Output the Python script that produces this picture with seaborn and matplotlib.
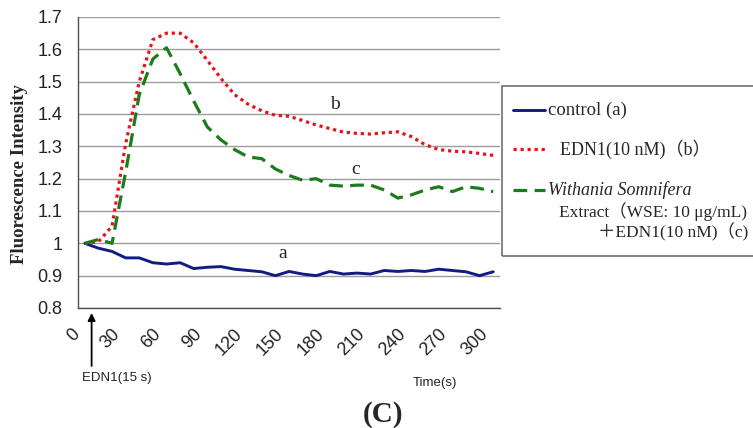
import numpy as np
import pandas as pd
import matplotlib
matplotlib.use("Agg")
import matplotlib.pyplot as plt
import matplotlib.ticker as mticker
import matplotlib.transforms as mtransforms
from matplotlib.lines import Line2D
from matplotlib.patches import Rectangle
import seaborn as sns

# Time points (s) and fluorescence readings
time_s = [0, 10, 20, 30, 40, 50, 60, 70, 80, 90, 100, 110, 120, 130, 140, 150,
          160, 170, 180, 190, 200, 210, 220, 230, 240, 250, 260, 270, 280, 290, 300]
control = [1.000, 0.985, 0.975, 0.955, 0.955, 0.940, 0.936, 0.940, 0.922, 0.926,
           0.928, 0.920, 0.916, 0.912, 0.900, 0.913, 0.905, 0.900, 0.913, 0.905,
           0.908, 0.905, 0.916, 0.913, 0.916, 0.913, 0.920, 0.916, 0.912, 0.900, 0.912]
edn1 = [1.000, 1.005, 1.053, 1.308, 1.500, 1.630, 1.650, 1.650, 1.620, 1.566,
        1.510, 1.460, 1.430, 1.410, 1.396, 1.393, 1.380, 1.366, 1.355, 1.344,
        1.340, 1.338, 1.342, 1.345, 1.330, 1.305, 1.290, 1.285, 1.283, 1.278, 1.272]
wse_edn1 = [1.000, 1.012, 1.000, 1.220, 1.460, 1.570, 1.605, 1.525, 1.440, 1.360,
            1.320, 1.290, 1.267, 1.262, 1.230, 1.210, 1.195, 1.200, 1.180, 1.177,
            1.180, 1.180, 1.165, 1.140, 1.150, 1.165, 1.175, 1.160, 1.175, 1.170, 1.160]

x_tick_values = [0, 30, 60, 90, 120, 150, 180, 210, 240, 270, 300]
y_tick_values = [0.8, 0.9, 1.0, 1.1, 1.2, 1.3, 1.4, 1.5, 1.6, 1.7]

df = pd.DataFrame({"time": time_s, "control": control, "edn1": edn1, "wse": wse_edn1})

sns.set_style("whitegrid")
plt.rcParams["font.family"] = ["Liberation Sans Narrow", "Liberation Sans", "DejaVu Sans"]

W, H = 753, 428
fig = plt.figure(figsize=(W / 100, H / 100), dpi=100)
ax = fig.add_axes([78 / W, 1 - 308 / H, 422 / W, 291 / H])

BLUE = "#101c82"
RED = "#e8121c"
GREEN = "#1c7c1c"

sns.lineplot(data=df, x="time", y="control", ax=ax, color=BLUE, lw=2.1)
sns.lineplot(data=df, x="time", y="edn1", ax=ax, color=RED, lw=2.3,
             linestyle=(0, (1, 1.2)))
sns.lineplot(data=df, x="time", y="wse", ax=ax, color=GREEN, lw=2.3,
             linestyle=(0, (4.3, 2.3)))

ax.set_xlim(-5, 305)
ax.set_ylim(0.8, 1.7)
ax.set_yticks(y_tick_values)
ax.yaxis.set_major_formatter(mticker.FuncFormatter(lambda v, p: f"{round(v, 1):g}"))
ax.set_xticks(x_tick_values)
ax.xaxis.set_minor_locator(mticker.FixedLocator(np.arange(5, 306, 10)))

ax.grid(axis="y", color="#9c9c9c", lw=1.0)
ax.grid(axis="x", visible=False)
for side in ["top", "right"]:
    ax.spines[side].set_visible(False)
for side in ["left", "bottom"]:
    ax.spines[side].set_color("#505050")
    ax.spines[side].set_linewidth(1.0)

ax.tick_params(axis="y", length=0, pad=11, labelsize=13, labelcolor="#222222")
ax.tick_params(axis="x", which="major", length=0, pad=17, labelsize=13, labelcolor="#222222")
ax.tick_params(axis="x", which="minor", direction="in", length=4, width=1, color="#505050")

shift = mtransforms.ScaledTranslation(-0.08, 0, fig.dpi_scale_trans)
for lab in ax.get_xticklabels():
    lab.set_rotation(45)
    lab.set_ha("right")
    lab.set_va("center")
    lab.set_rotation_mode("anchor")
    lab.set_transform(lab.get_transform() + shift)

ax.set_xlabel("")
ax.set_ylabel("Fluorescence Intensity", family="Liberation Serif", weight="bold", fontsize=13.5)
ax.yaxis.set_label_coords(-0.118, 0.46)

# curve letters
serif = ["Liberation Serif", "Noto Sans CJK JP"]
ax.text(145, 0.969, "a", family=serif, fontsize=14, ha="center", va="center")
ax.text(184, 1.428, "b", family=serif, fontsize=14, ha="center", va="center")
ax.text(199, 1.228, "c", family=serif, fontsize=14, ha="center", va="center")

# EDN1 addition arrow
bt = mtransforms.blended_transform_factory(ax.transData, fig.transFigure)
ax.annotate("", xy=(5, 1 - 313 / H), xycoords=bt, xytext=(5, 1 - 366 / H), textcoords=bt,
            arrowprops=dict(arrowstyle="-|>", color="black", lw=1.3,
                            mutation_scale=11, shrinkA=0, shrinkB=0),
            annotation_clip=False)
fig.text(82 / W, 1 - 378 / H, "EDN1(15 s)", family="Liberation Sans", fontsize=9.5,
         ha="left", va="center", color="#222222")
fig.text(413 / W, 1 - 383 / H, "Time(s)", family="Liberation Sans", fontsize=9.5,
         ha="left", va="center", color="#222222")
fig.text(383 / W, 1 - 415 / H, "(C)", family="Liberation Serif", weight="bold",
         fontsize=21, ha="center", va="center")

# legend box drawn by hand (mixed italic / multi-line entry)
fig.add_artist(Rectangle((502 / W, 1 - 256 / H), 270 / W, 170 / H, transform=fig.transFigure,
                         fill=False, edgecolor="#707070", lw=1.2, clip_on=False))
handles = [
    (110, BLUE, "-", 2.1),
    (149, RED, (0, (1, 1.2)), 2.3),
    (190, GREEN, (0, (4.3, 2.3)), 2.3),
]
for y, c, ls, lw in handles:
    fig.add_artist(Line2D([513 / W, 545 / W], [1 - y / H, 1 - y / H], transform=fig.transFigure,
                          color=c, linestyle=ls, lw=lw))
fig.text(548 / W, 1 - 110 / H, "control (a)", family=serif, fontsize=13.5, va="center")
fig.text(560 / W, 1 - 149 / H, "EDN1(10 nM)（b）", family=serif, fontsize=13, va="center")
fig.text(548 / W, 1 - 190 / H, "Withania Somnifera", family=serif, style="italic",
         fontsize=13, va="center")
fig.text(559 / W, 1 - 212 / H, "Extract（WSE: 10 μg/mL)", family=serif, fontsize=12.5,
         va="center")
fig.text(598 / W, 1 - 232 / H, "＋EDN1(10 nM)（c)", family=serif, fontsize=12.5, va="center")

fig.savefig("out.png", dpi=100)
plt.close(fig)
